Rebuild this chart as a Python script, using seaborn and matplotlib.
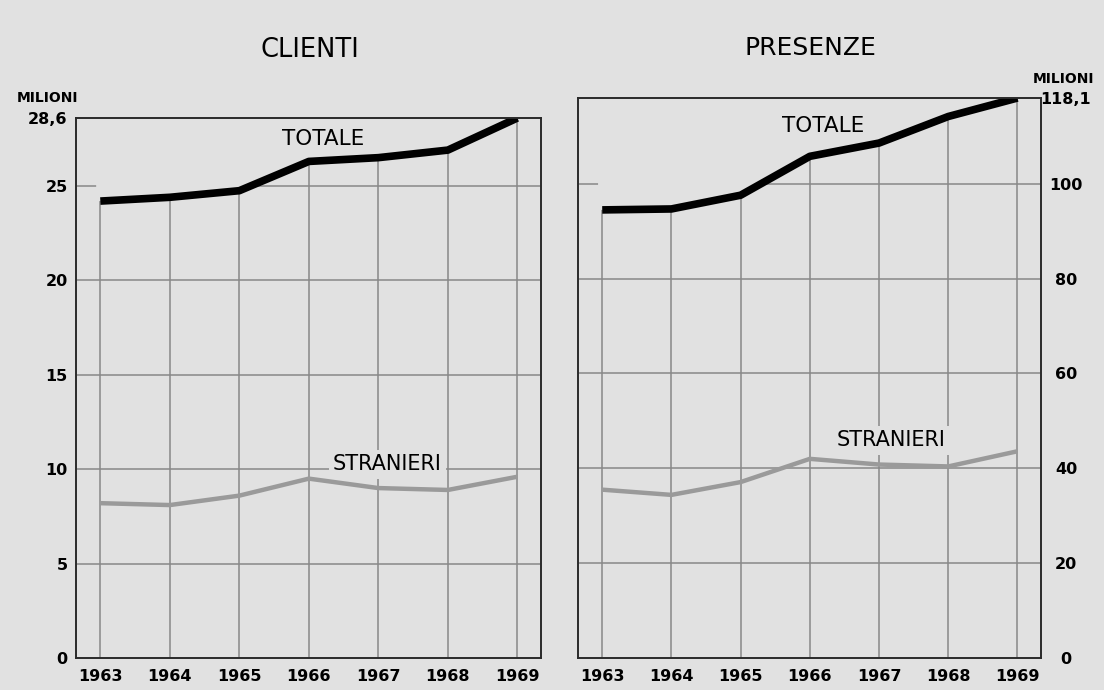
import matplotlib
matplotlib.use("Agg")
import matplotlib.pyplot as plt
from matplotlib.patches import Polygon
import seaborn as sns
import pandas as pd

anni = [1963, 1964, 1965, 1966, 1967, 1968, 1969]

# clienti (milioni)
clienti_totale = [24.2, 24.4, 24.75, 26.3, 26.5, 26.9, 28.6]
clienti_stranieri = [8.2, 8.1, 8.6, 9.5, 9.0, 8.9, 9.6]

# presenze (milioni)
presenze_totale = [94.5, 94.7, 97.6, 105.8, 108.6, 114.2, 118.1]
presenze_stranieri = [35.5, 34.4, 37.1, 42.0, 40.8, 40.4, 43.6]

sinistra_tick = [0, 5, 10, 15, 20, 25]
destra_tick = [0, 20, 40, 60, 80, 100]

sfondo = "#e1e1e1"
griglia = "#888888"
grigio_linea = "#9a9a9a"

sns.set_theme(style="white")
plt.rcParams["font.family"] = ["DejaVu Sans"]
plt.rcParams["text.color"] = "black"
plt.rcParams["xtick.color"] = "black"
plt.rcParams["ytick.color"] = "black"

fig = plt.figure(figsize=(11.04, 6.9), dpi=100, facecolor=sfondo)
ax1 = fig.add_axes([76 / 1104, 1 - 658 / 690, 465 / 1104, 540 / 690])
ax2 = fig.add_axes([578 / 1104, 1 - 658 / 690, 463 / 1104, 560 / 690])

X0, X1 = 1962.65, 1969.34


def pannello(ax, tot, stra, ymax, ticks, top_label, destra):
    ax.set_facecolor(sfondo)
    df = pd.DataFrame({"anno": anni, "totale": tot, "stranieri": stra})
    # la griglia non passa sopra la curva del totale
    zona = [(X0, 0), (X0, ymax), (anni[0] - 0.06, ymax), (anni[0] - 0.06, tot[0])] + \
           list(zip(anni, tot)) + [(anni[-1], ymax), (X1, ymax), (X1, 0)]
    clip = Polygon(zona, closed=True, transform=ax.transData)
    linee = []
    for a in anni:
        linee.append(ax.axvline(a, color=griglia, lw=1.1, zorder=1))
    for t in ticks[1:]:
        linee.append(ax.axhline(t, color=griglia, lw=1.1, zorder=1))
    for l in linee:
        l.set_clip_path(clip)
    sns.lineplot(data=df, x="anno", y="stranieri", ax=ax, color=grigio_linea,
                 lw=3.2, zorder=4, solid_capstyle="butt")
    sns.lineplot(data=df, x="anno", y="totale", ax=ax, color="black",
                 lw=5.5, zorder=5, solid_capstyle="butt")
    ax.set_xlim(X0, X1)
    ax.set_ylim(0, ymax)
    ax.set_xticks(anni)
    ax.set_xticklabels([str(a) for a in anni], fontsize=11.5, fontweight="semibold")
    ax.set_yticks(ticks + [ymax])
    ax.set_yticklabels([str(t) for t in ticks] + [top_label], fontsize=11.5,
                       fontweight="semibold")
    ax.tick_params(length=0)
    ax.tick_params(axis="x", pad=8)
    if destra:
        ax.yaxis.tick_right()
        for lab in ax.get_yticklabels():
            lab.set_horizontalalignment("center")
        ax.tick_params(axis="y", pad=18)
    else:
        ax.tick_params(axis="y", pad=6)
    ax.set_xlabel("")
    ax.set_ylabel("")
    for s in ax.spines.values():
        s.set_color("#2a2a2a")
        s.set_linewidth(1.4)
        s.set_zorder(6)


pannello(ax1, clienti_totale, clienti_stranieri, 28.6, sinistra_tick, "28,6", False)
pannello(ax2, presenze_totale, presenze_stranieri, 118.1, destra_tick, "118,1", True)

box = dict(facecolor=sfondo, edgecolor="none", pad=3)
ax1.text(1966.2, 27.5, "TOTALE", ha="center", va="center", fontsize=15.5, zorder=7)
ax2.text(1966.19, 112.1, "TOTALE", ha="center", va="center", fontsize=15.5, zorder=7)
ax1.text(1967.13, 10.25, "STRANIERI", ha="center", va="center", fontsize=15, zorder=3, bbox=box)
ax2.text(1967.17, 45.9, "STRANIERI", ha="center", va="center", fontsize=15, zorder=3, bbox=box)

fig.text(310 / 1104, 1 - 50 / 690, "CLIENTI", ha="center", va="center", fontsize=18.5)
fig.text(810 / 1104, 1 - 48 / 690, "PRESENZE", ha="center", va="center", fontsize=18)
fig.text(47 / 1104, 1 - 98 / 690, "MILIONI", ha="center", va="center", fontsize=10, fontweight="semibold")
fig.text(1063 / 1104, 1 - 79 / 690, "MILIONI", ha="center", va="center", fontsize=10, fontweight="semibold")

fig.savefig("out.png", dpi=100, facecolor=sfondo)
